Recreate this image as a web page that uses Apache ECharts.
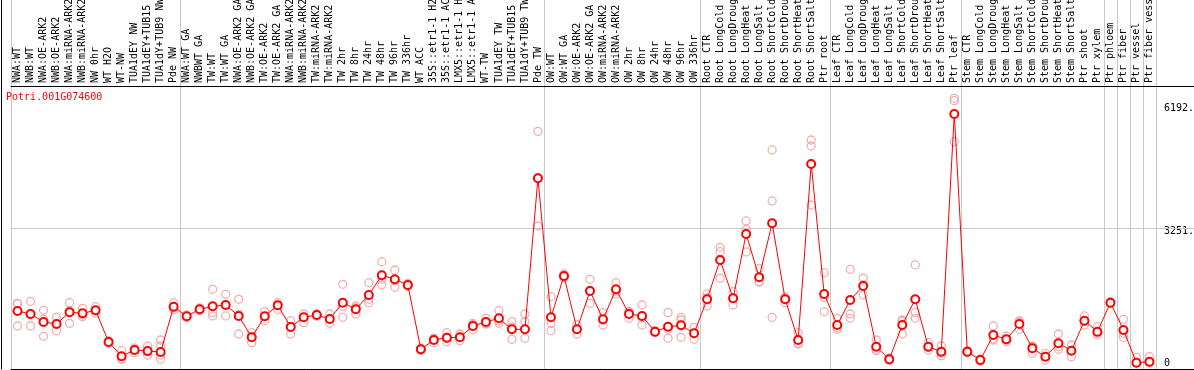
<!DOCTYPE html>
<html>
<head>
<meta charset="utf-8">
<script src="https://cdn.jsdelivr.net/npm/echarts@6/dist/echarts.min.js"></script>
<style>html,body{margin:0;padding:0;background:#fff;}#c{width:1194px;height:370px;}</style>
</head>
<body>
<div id="c"></div>
<script>
const geneId = 'Potri.001G074600';

const categories = [
 'NWA:WT','NWB:WT','NWA:OE-ARK2','NWB:OE-ARK2','NWA:miRNA-ARK2','NWB:miRNA-ARK2','NW 0hr','WT H2O','WT-NW','TUA1dEY NW','TUA1dEY+TUB15 NW','TUA1dY+TUB9 NW','Pde NW',
 'NWA:WT GA','NWBWT GA','TW:WT','TW:WT GA','NWA:OE-ARK2 GA','NWB:OE-ARK2 GA','TW:OE-ARK2','TW:OE-ARK2 GA','NWA:miRNA-ARK2 GA','NWB:miRNA-ARK2 GA','TW:miRNA-ARK2','TW:miRNA-ARK2 GA',
 'TW 2hr','TW 8hr','TW 24hr','TW 48hr','TW 96hr','TW 336hr','WT ACC','35S::etr1-1 H2O','35S::etr1-1 ACC','LMX5::etr1-1 H2O','LMX5::etr1-1 ACC','WT-TW','TUA1dEY TW','TUA1dEY+TUB15 TW','TUA1dY+TUB9 TW','Pde TW',
 'OW:WT','OW:WT GA','OW:OE-ARK2','OW:OE-ARK2 GA','OW:miRNA-ARK2','OW:miRNA-ARK2 GA','OW 2hr','OW 8hr','OW 24hr','OW 48hr','OW 96hr','OW 336hr',
 'Root CTR','Root LongCold','Root LongDrought','Root LongHeat','Root LongSalt','Root ShortCold','Root ShortDrought','Root ShortHeat','Root ShortSalt','Ptr root',
 'Leaf CTR','Leaf LongCold','Leaf LongDrought','Leaf LongHeat','Leaf LongSalt','Leaf ShortCold','Leaf ShortDrought','Leaf ShortHeat','Leaf ShortSalt','Ptr leaf',
 'Stem CTR','Stem LongCold','Stem LongDrought','Stem LongHeat','Stem LongSalt','Stem ShortCold','Stem ShortDrought','Stem ShortHeat','Stem ShortSalt','Ptr shoot','Ptr xylem',
 'Ptr phloem','Ptr fiber','Ptr vessel','Ptr fiber vessel'
];
// empty slots on the right where the value labels sit
const paddingSlots = ['', '', ''];

// sample-group separators (category index of each boundary)
const groupBreaks = [0, 13, 41, 53, 63, 73, 84, 85, 86, 87, 88];

const means = [
 1255,1183,990,941,1224,1200,1272,507,162,314,290,266,1359,
 1127,1296,1369,1400,1135,620,1127,1393,869,1103,1159,1062,1456,1296,1642,2117,2020,1883,331,555,611,620,893,990,1079,813,813,4459,
 1103,2100,813,1738,1055,1779,1183,1135,756,876,910,717,
 1538,2486,1562,3114,2069,3372,1538,555,4804,1666,
 917,1521,1859,394,89,917,1538,394,273,6010,
 273,72,676,572,941,355,152,476,297,1021,756,
 1456,797,7,31
];

const rep1 = [
 1441,1489,1272,1103,1456,1320,1359,540,297,362,410,555,1456,
 1160,1330,1779,1658,1538,732,1239,1456,1021,1183,1190,1183,1900,1376,1938,2445,2245,1920,360,600,732,700,958,1079,1263,998,1183,5593,
 1601,2150,926,2020,1215,1938,1239,1400,780,1215,1103,862,
 1666,2793,1721,3428,2286,5142,1601,732,5383,2180,
 1079,2262,2045,555,120,1038,2366,490,410,6389,
 300,100,893,652,1021,410,234,700,434,1135,876,
 1480,1055,138,152
];
const rep2 = [
 1431,1167,1054,940,1258,1162,1257,507,100,331,266,410,1330,
 1127,1296,1215,1400,1167,638,1127,1393,886,1103,1159,1045,1365,1329,1538,2023,1988,1883,331,575,587,622,924,950,1016,869,998,4477,
 958,2100,813,1755,1035,1733,1231,1088,756,817,1038,717,
 1572,2687,1565,3227,1958,3911,1557,474,5238,1579,
 859,1183,1890,330,89,1013,1215,378,234,6332,
 273,72,580,550,989,380,150,397,305,1011,716,
 1456,716,10,31
];
const rep3 = [
 893,893,644,780,958,1118,1200,474,89,249,193,193,1290,
 1095,1262,1135,1135,700,490,1014,1296,700,973,1128,958,1103,1183,1456,1883,1827,1846,302,490,514,538,797,941,958,572,596,3307,
 780,2050,700,1441,917,1666,1079,917,732,596,620,572,
 1376,2045,1400,2680,1963,1103,1456,459,3814,1239,
 813,1079,1642,297,60,700,1079,314,175,5342,
 246,44,555,514,813,234,72,331,152,917,676,
 1432,620,0,0
];
const rep4 = [];
rep4[11] = 89;

const yTicks = [0, 3251, 6192];
const yTickText = ['0', '3251.', '6192.'];
const yTickNudge = [0, 7, 4];

const axisFont = 'DejaVu Sans Mono';
const gridGray = '#c8c8c8';
const repColor = '#ee9c9c';
const meanColor = '#ff0000';

const allCats = categories.concat(paddingSlots);
const breakSet = new Set(groupBreaks);
const breakFn = function (idx) { return breakSet.has(idx); };

const richLabels = {};
yTickNudge.forEach(function (n, i) {
  richLabels['t' + i] = { padding: [n, 0, 0, 0], fontFamily: axisFont, fontSize: 10, color: '#000' };
});

function repSeries(name, arr) {
  return {
    name: name, type: 'scatter', xAxisIndex: 0, yAxisIndex: 0,
    data: arr, symbol: 'circle', symbolSize: 8, z: 2, silent: true,
    itemStyle: { color: 'rgba(0,0,0,0)', borderColor: repColor, borderWidth: 1.3 }
  };
}

const chart = echarts.init(document.getElementById('c'), null, { renderer: 'canvas' });
chart.setOption({
  animation: false,
  backgroundColor: '#ffffff',
  title: {
    text: geneId, left: 6, top: 92, padding: 0,
    textStyle: { color: meanColor, fontSize: 10, fontFamily: axisFont, fontWeight: 'normal' }
  },
  grid: [
    { left: 11, right: -1, top: 86, bottom: 1, containLabel: false, outerBoundsMode: 'none' },
    { left: 11, right: -1, top: 0, height: 86, containLabel: false, outerBoundsMode: 'none' }
  ],
  xAxis: [
    {
      type: 'category', gridIndex: 0, position: 'top', data: allCats, boundaryGap: true,
      axisLine: { show: true, onZero: false, lineStyle: { color: '#000', width: 1 } },
      axisTick: { show: false },
      axisLabel: { interval: 0, rotate: -90, align: 'left', verticalAlign: 'middle', margin: 3, fontFamily: axisFont, fontSize: 10, color: '#000' },
      splitLine: { show: true, interval: breakFn, lineStyle: { color: gridGray, width: 1 } }
    },
    {
      type: 'category', gridIndex: 1, data: allCats, boundaryGap: true,
      axisLine: { show: false }, axisTick: { show: false }, axisLabel: { show: false },
      splitLine: { show: true, interval: breakFn, lineStyle: { color: gridGray, width: 1 } }
    },
    {
      type: 'category', gridIndex: 0, position: 'bottom', data: allCats, boundaryGap: true,
      axisLine: { show: true, onZero: false, lineStyle: { color: '#000', width: 1 } },
      axisTick: { show: false }, axisLabel: { show: false }, splitLine: { show: false }
    }
  ],
  yAxis: [
    {
      type: 'value', gridIndex: 0, position: 'right', min: -145, max: 6686,
      axisLine: { show: false }, axisTick: { show: false }, splitLine: { show: false },
      axisLabel: {
        inside: true, align: 'left', margin: 31, customValues: yTicks,
        fontFamily: axisFont, fontSize: 10, color: '#000',
        rich: richLabels,
        formatter: function (v) {
          const i = yTicks.indexOf(v);
          return i >= 0 ? '{t' + i + '|' + yTickText[i] + '}' : '';
        }
      }
    },
    {
      type: 'value', gridIndex: 0, position: 'left', offset: 10, min: -145, max: 6686,
      axisLine: { show: true, onZero: false, lineStyle: { color: '#000', width: 1 } },
      axisTick: { show: false }, axisLabel: { show: false }, splitLine: { show: false }
    },
    {
      type: 'value', gridIndex: 1, position: 'left', offset: 10,
      axisLine: { show: true, onZero: false, lineStyle: { color: '#000', width: 1 } },
      axisTick: { show: false }, axisLabel: { show: false }, splitLine: { show: false }
    }
  ],
  series: [
    repSeries('rep1', rep1),
    repSeries('rep2', rep2),
    repSeries('rep3', rep3),
    repSeries('rep4', rep4),
    {
      name: 'mean', type: 'line', xAxisIndex: 0, yAxisIndex: 0, data: means, z: 3,
      symbol: 'emptyCircle', symbolSize: 8, showAllSymbol: true,
      lineStyle: { color: meanColor, width: 1 },
      itemStyle: { color: meanColor, borderColor: meanColor, borderWidth: 1 },
      markLine: {
        silent: true, symbol: ['none', 'none'], label: { show: false }, z: 1,
        lineStyle: { color: gridGray, type: 'solid', width: 1 },
        data: [{ yAxis: yTicks[1] }]
      }
    }
  ]
});
</script>
</body>
</html>
